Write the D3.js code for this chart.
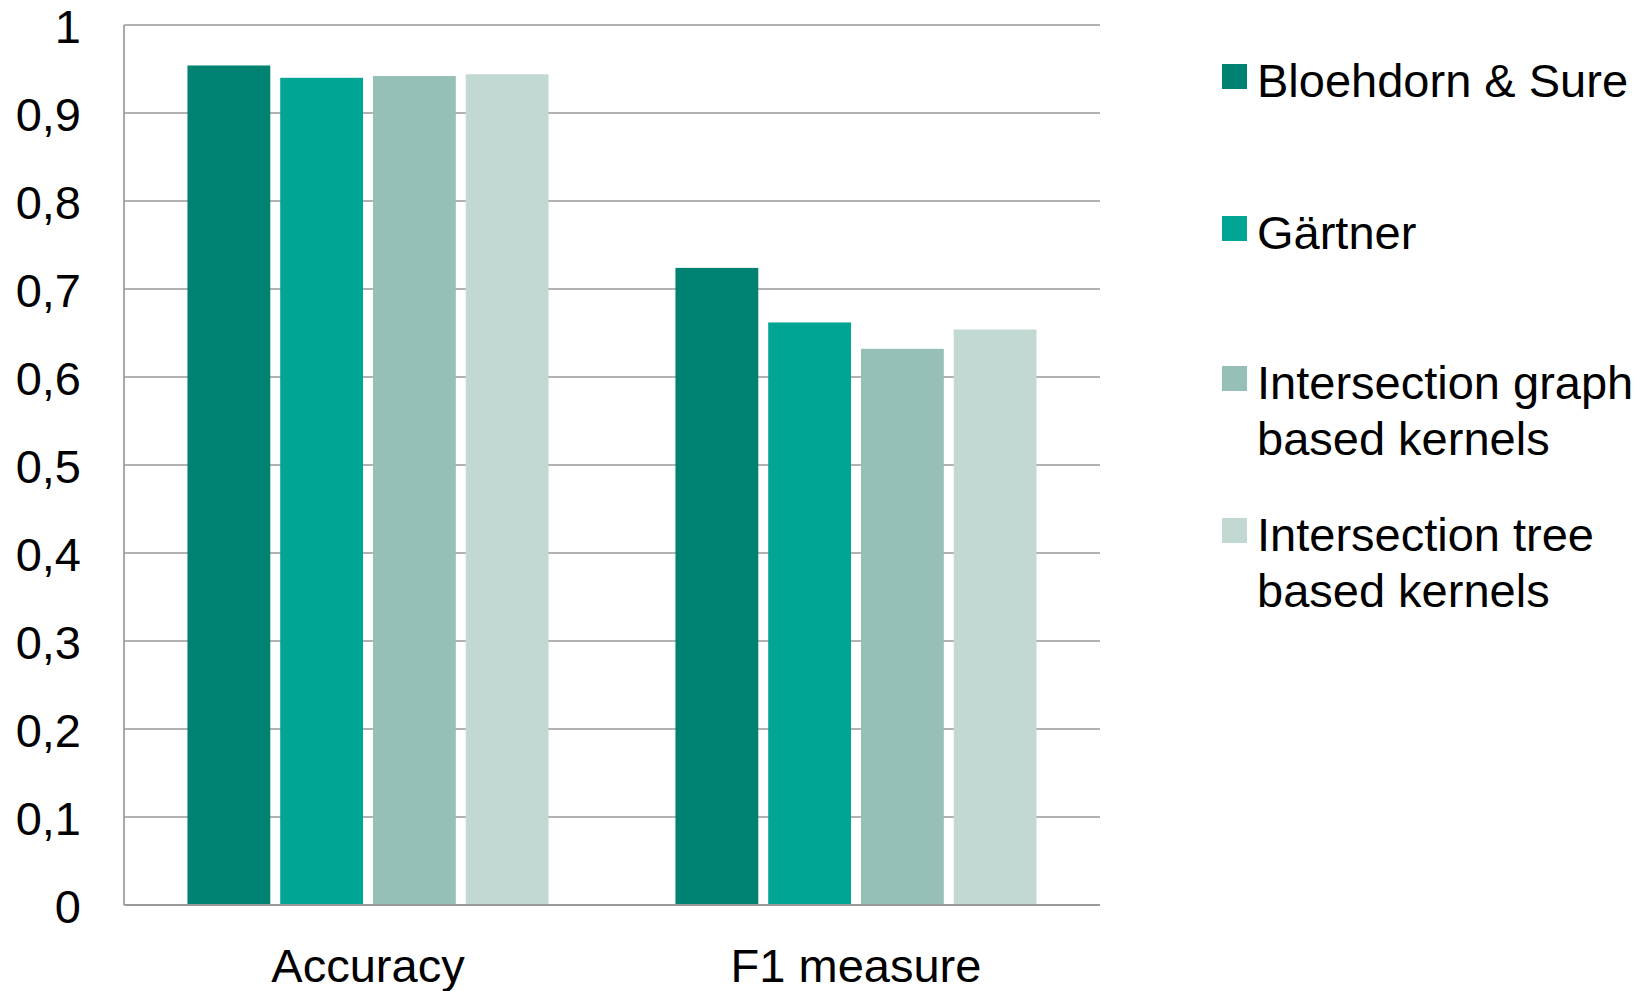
<!DOCTYPE html>
<html><head><meta charset="utf-8">
<script src="https://cdn.jsdelivr.net/npm/d3@7"></script>
<style>
html,body{margin:0;padding:0;background:#fff;}
svg{display:block;font-family:"Liberation Sans",Arial,sans-serif;}
</style></head>
<body><svg id="c" width="1649" height="991"></svg>
<script>
const categories = ["Accuracy", "F1 measure"];
const seriesNames = ["Bloehdorn & Sure", "Gärtner", "Intersection graph based kernels", "Intersection tree based kernels"];
const legendLines = [["Bloehdorn & Sure"], ["Gärtner"], ["Intersection graph", "based kernels"], ["Intersection tree", "based kernels"]];
const colors = ["#008272", "#00a693", "#96c0b7", "#c2d9d3"];
const bloehdorn = [0.954, 0.724];
const gartner = [0.940, 0.662];
const graphKernels = [0.942, 0.632];
const treeKernels = [0.944, 0.654];
const yTicks = [0, 0.1, 0.2, 0.3, 0.4, 0.5, 0.6, 0.7, 0.8, 0.9, 1];

const series = [bloehdorn, gartner, graphKernels, treeKernels];
const svg = d3.select("#c");
const L = 124, R = 1100, T = 25, B = 905;
const y = d3.scaleLinear().domain([0, 1]).range([B, T]);
const x0 = d3.scaleBand().domain(categories).range([L, R]).paddingInner(0.26).paddingOuter(0.13);
const x1 = d3.scaleBand().domain(d3.range(series.length)).range([0, x0.bandwidth()]).paddingInner(0.107).paddingOuter(0);
const fmt = v => String(+v.toFixed(1)).replace(".", ",");

// gridlines
svg.append("g").selectAll("line").data(yTicks).join("line")
  .attr("x1", L).attr("x2", R)
  .attr("y1", d => y(d)).attr("y2", d => y(d))
  .attr("stroke", "#9a9a9a").attr("stroke-width", 1.7);
// left axis line
svg.append("line").attr("x1", L).attr("x2", L).attr("y1", y(1)).attr("y2", y(0))
  .attr("stroke", "#9a9a9a").attr("stroke-width", 1.7);

// bars
const g = svg.append("g");
categories.forEach((c, ci) => {
  series.forEach((s, si) => {
    g.append("rect")
      .attr("x", x0(c) + x1(si))
      .attr("width", x1.bandwidth())
      .attr("y", y(s[ci]))
      .attr("height", y(0) - y(s[ci]))
      .attr("fill", colors[si]);
  });
});
// bottom axis redraw over bars
svg.append("line").attr("x1", L).attr("x2", R).attr("y1", y(0)).attr("y2", y(0))
  .attr("stroke", "#9a9a9a").attr("stroke-width", 2);

// y tick labels
svg.append("g").selectAll("text").data(yTicks).join("text")
  .attr("x", 81).attr("y", d => y(d) + 18)
  .attr("text-anchor", "end").attr("font-size", 47).attr("fill", "#000")
  .text(fmt);

// x labels
svg.append("g").selectAll("text").data(categories).join("text")
  .attr("x", d => x0(d) + x0.bandwidth() / 2).attr("y", 982)
  .attr("text-anchor", "middle").attr("font-size", 47).attr("fill", "#000")
  .text(d => d);

// legend
const legendBase = [97, 249, 399, 551];
const lg = svg.append("g");
legendLines.forEach((lines, i) => {
  lg.append("rect").attr("x", 1222).attr("y", legendBase[i] - 33)
    .attr("width", 25).attr("height", 25).attr("fill", colors[i]);
  lines.forEach((t, li) => {
    lg.append("text").attr("x", 1257).attr("y", legendBase[i] + li * 56)
      .attr("font-size", 47).attr("fill", "#000").text(t);
  });
});
</script></body></html>
